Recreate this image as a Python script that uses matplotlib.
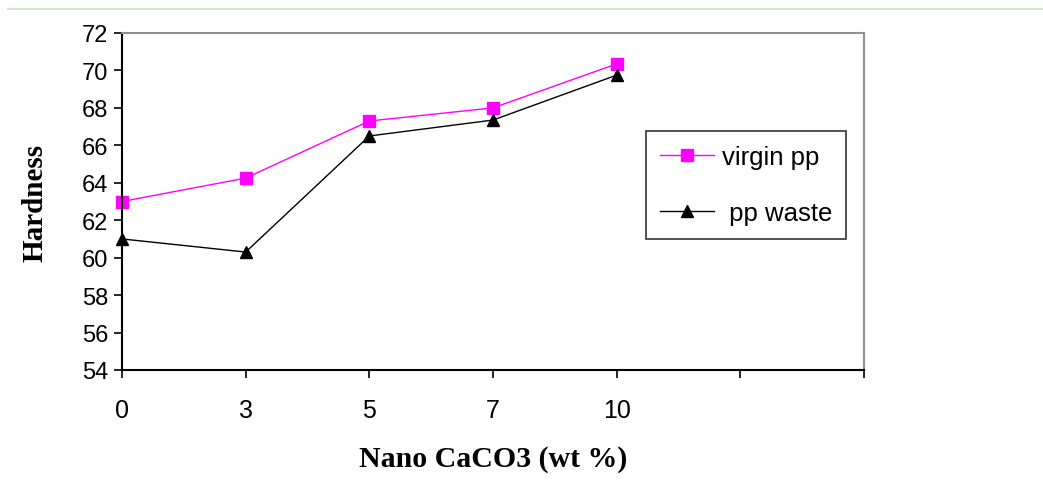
import matplotlib.pyplot as plt
from matplotlib.lines import Line2D

# Nano CaCO3 loading and hardness readings
caco3 = ['0', '3', '5', '7', '10']
virgin_pp = [63.0, 64.25, 67.3, 68.0, 70.35]
pp_waste = [61.0, 60.3, 66.5, 67.35, 69.75]

plt.rcParams['font.family'] = ['Liberation Sans', 'DejaVu Sans']

fig = plt.figure(figsize=(10.43, 4.85), dpi=100)
ax = fig.add_axes([122 / 1043, 1 - 371 / 485, (864 - 122) / 1043, (371 - 34) / 485])

# thin green rule across the top of the page
fig.add_artist(Line2D([8 / 1043, 1], [1 - 10 / 485, 1 - 10 / 485],
                      color='#cfe8c8', lw=1.5, transform=fig.transFigure))

x = range(len(caco3))
ax.plot(x, virgin_pp, color='#ff00ff', lw=1.0, marker='s', ms=8,
        label='virgin pp', clip_on=False)
ax.plot(x, pp_waste, color='black', lw=1.0, marker='^', ms=8,
        label=' pp waste', clip_on=False)

ax.set_xlim(0, 6)
ax.set_ylim(54, 72)
ax.set_xticks(range(7))
ax.set_xticklabels(caco3 + ['', ''])
ax.set_yticks(range(54, 73, 2))

for side in ['top', 'right']:
    ax.spines[side].set_color('#909090')
    ax.spines[side].set_linewidth(1.5)
for side in ['left', 'bottom']:
    ax.spines[side].set_color('black')
    ax.spines[side].set_linewidth(1.5)

ax.tick_params(direction='out', length=6, width=1.2, colors='black')
ax.tick_params(axis='x', labelsize=18, pad=14)
ax.tick_params(axis='y', labelsize=17, pad=4)

ax.set_xlabel('Nano CaCO3 (wt %)', family='Liberation Serif', fontweight='bold',
              fontsize=21.5, labelpad=17)
ax.set_ylabel('Hardness', family='Liberation Serif', fontweight='bold',
              fontsize=21, labelpad=24)

leg = ax.legend(loc='upper left', bbox_to_anchor=((646 - 122) / 742, 1 - (132 - 34) / 337),
                borderaxespad=0, fontsize=18.5, frameon=True, fancybox=False,
                handlelength=2.1, labelspacing=1.25, borderpad=0.55, handletextpad=0.3)
leg.get_frame().set_edgecolor('black')
leg.get_frame().set_linewidth(1.2)

plt.savefig('out.png', dpi=100)
